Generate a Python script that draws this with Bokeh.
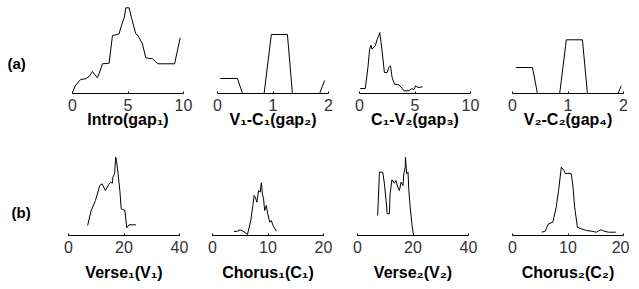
from bokeh.plotting import figure
from bokeh.layouts import column, row
from bokeh.models import Range1d, FixedTicker
from bokeh.core.properties import value
from bokeh.embed import file_html
from bokeh.resources import INLINE

# ---- data (relative heights) ----
intro_x = [0, 0.27, 0.73, 1.18, 1.5, 1.8, 2.0, 2.25, 2.55, 2.7, 3.3, 3.6, 3.9, 4.2, 4.36, 4.67, 4.8, 5.1, 5.3, 5.7, 5.9, 6.3, 6.6, 7.2, 7.7, 9.2, 9.7]
intro_y = [1.3, 8, 14, 14.7, 17, 22, 19, 15.7, 24.7, 29.7, 30.3, 58, 58.7, 59.7, 66.3, 76.3, 85.7, 85.7, 76.3, 59.7, 58, 49.7, 35.7, 34.7, 29.7, 29.7, 55.7]

gap2_x = [0.05, 0.36, 0.45, 0.84, 0.97, 1.26, 1.35, 1.84, 1.93]
gap2_y = [15, 15, 0, 0, 59, 59, 0, 0, 13]

gap3_x = [0.06, 0.52, 0.76, 0.91, 1.03, 1.12, 1.42, 1.58, 1.73, 1.82, 1.94, 2.12, 2.24, 2.49, 2.64, 2.79, 2.94, 3.15, 3.55, 3.85, 4.0, 4.45, 4.7, 4.9, 5.06, 5.27, 5.67]
gap3_y = [5, 5, 26, 44.3, 48.3, 44.3, 47.7, 53.7, 57.7, 61, 51, 34.3, 21, 21, 26, 27.7, 16, 9.3, 8.7, 5, 2.7, 2.7, 5, 3.7, 7.7, 6, 6.7]

gap4_x = [0.06, 0.36, 0.45, 0.85, 0.97, 1.26, 1.35, 1.9, 1.96]
gap4_y = [26, 26, 0, 0, 53.7, 53.7, 0, 0, 7.7]

verse1_x = [6.9, 8.1, 9.7, 11.3, 12.1, 13.3, 14.5, 15.2, 15.8, 16.0, 16.6, 17.0, 17.3, 17.8, 18.5, 19.0, 20.3, 21.0, 21.8, 24.3]
verse1_y = [10, 24.3, 35, 50, 51.7, 45, 51, 53.3, 52.3, 58.3, 61.7, 78.3, 75, 63.3, 45, 26.7, 25, 7.7, 10.7, 10.7]

chorus1_x = [3.87, 4.48, 4.97, 5.45, 5.87, 6.3, 6.9, 7.27, 7.5, 7.7, 8.0, 8.3, 8.6, 8.8, 9.0, 9.2, 9.4, 9.7, 9.9, 10.3, 10.6, 10.9, 11.15, 11.5]
chorus1_y = [4, 4.3, 5.7, 4.3, 3, 1, 15, 30, 40, 38.3, 33.3, 45, 43.3, 52.7, 41.7, 36.7, 25, 30, 23.3, 13.3, 15, 10, 7.7, 4.3]

verse2_x = [7.27, 7.9, 9.1, 9.7, 10.3, 10.7, 11.5, 11.75, 12.4, 13.3, 13.9, 14.5, 15.1, 15.7, 16.4, 16.7, 17.2, 17.3, 17.7, 18.2, 18.5, 19.0, 19.6, 20.2]
verse2_y = [20, 63.3, 63.3, 51.7, 35, 21.7, 21.7, 41.7, 55.7, 52.3, 55, 48.3, 45, 53.3, 50, 61.7, 68.3, 78.3, 61.7, 63.3, 45, 28.3, 11.7, 0]

chorus2_x = [5.27, 5.88, 6.48, 7.27, 7.88, 8.3, 8.8, 9.27, 9.57, 10.0, 10.6, 10.9, 11.2, 11.7, 12.4, 13.3, 14.2, 15.15, 15.6, 16.06, 16.5, 17.3, 18.6]
chorus2_y = [3.3, 4.3, 11.7, 13.3, 28.3, 45, 68.3, 65, 61.7, 62.3, 61.7, 48.3, 28.3, 8.3, 6.7, 5, 4.3, 3.3, 5, 5.7, 4.3, 3.3, 3.3]

titles = ["Intro(gap\u2081)", "V\u2081-C\u2081(gap\u2082)", "C\u2081-V\u2082(gap\u2083)", "V\u2082-C\u2082(gap\u2084)",
          "Verse\u2081(V\u2081)", "Chorus\u2081(C\u2081)", "Verse\u2082(V\u2082)", "Chorus\u2082(C\u2082)"]
x_max = [10, 2, 10, 2, 40, 20, 40, 20]
ticks = [[0, 5, 10], [0, 1, 2], [0, 5, 10], [0, 1, 2], [0, 20, 40], [0, 10, 20], [0, 20, 40], [0, 10, 20]]
row_labels = ["(a)", "(b)"]

series = [(intro_x, intro_y), (gap2_x, gap2_y), (gap3_x, gap3_y), (gap4_x, gap4_y),
          (verse1_x, verse1_y), (chorus1_x, chorus1_y), (verse2_x, verse2_y), (chorus2_x, chorus2_y)]

FRAME_W = 111
LAB_W = 40
left_b = [32, 24, 21, 32, 28, 23, 24, 34]
right_b = [10, 10, 10, 6, 10, 10, 10, 6]
row_h = [150, 139]
frame_h = [93, 85]
lab_standoff = [5, 5]
title_standoff = [-3, 8]
lab_from_top = [62.5, 62]   # vertical centre of the row label, px below the top of its row
lab_left = [7, 11]

FONT = "Liberation Sans"

rows = []
for r in range(2):
    # label strip: its frame is aligned with the panels' frames by the row layout
    lf = figure(width=LAB_W, height=row_h[r], x_range=Range1d(0, LAB_W), y_range=Range1d(0, frame_h[r]),
                output_backend="svg", toolbar_location=None, x_axis_location=None, y_axis_location=None,
                min_border_left=0, min_border_right=0, min_border_top=0,
                min_border_bottom=row_h[r] - frame_h[r])
    lf.outline_line_color = None
    lf.grid.visible = False
    lf.text(x=[lab_left[r]], y=[frame_h[r] - lab_from_top[r]], text=[row_labels[r]], text_font=value(FONT),
            text_font_size="15px", text_font_style="bold", text_baseline="middle", text_align="left",
            text_color="black")
    figs = [lf]
    for k in range(4):
        i = r * 4 + k
        xs, ys = series[i]
        p = figure(width=left_b[i] + FRAME_W + right_b[i], height=row_h[r],
                   x_range=Range1d(0, x_max[i]), y_range=Range1d(0, frame_h[r]),
                   output_backend="svg", toolbar_location=None, y_axis_location=None,
                   min_border_left=left_b[i], min_border_right=right_b[i],
                   min_border_top=0, min_border_bottom=row_h[r] - frame_h[r])
        p.outline_line_color = None
        p.grid.visible = False
        p.line(xs, ys, line_color="black", line_width=1)
        ax = p.xaxis[0]
        ax.ticker = FixedTicker(ticks=ticks[i])
        ax.minor_tick_line_color = None
        ax.major_tick_in = 2
        ax.major_tick_out = 0
        ax.axis_line_color = "black"
        ax.major_tick_line_color = "black"
        ax.major_label_standoff = lab_standoff[r]
        ax.major_label_text_font = FONT
        ax.major_label_text_font_size = "16px"
        ax.major_label_text_color = "#333333"
        ax.major_label_text_line_height = 1.0
        ax.axis_label = titles[i]
        ax.axis_label_text_font = FONT
        ax.axis_label_text_font_size = "16px"
        ax.axis_label_text_font_style = "bold"
        ax.axis_label_text_color = "black"
        ax.axis_label_text_line_height = 1.0
        ax.axis_label_standoff = title_standoff[r]
        figs.append(p)
    rows.append(row(*figs, spacing=0))

layout = column(*rows, spacing=0)
open("out.html", "w").write(file_html(layout, INLINE))
